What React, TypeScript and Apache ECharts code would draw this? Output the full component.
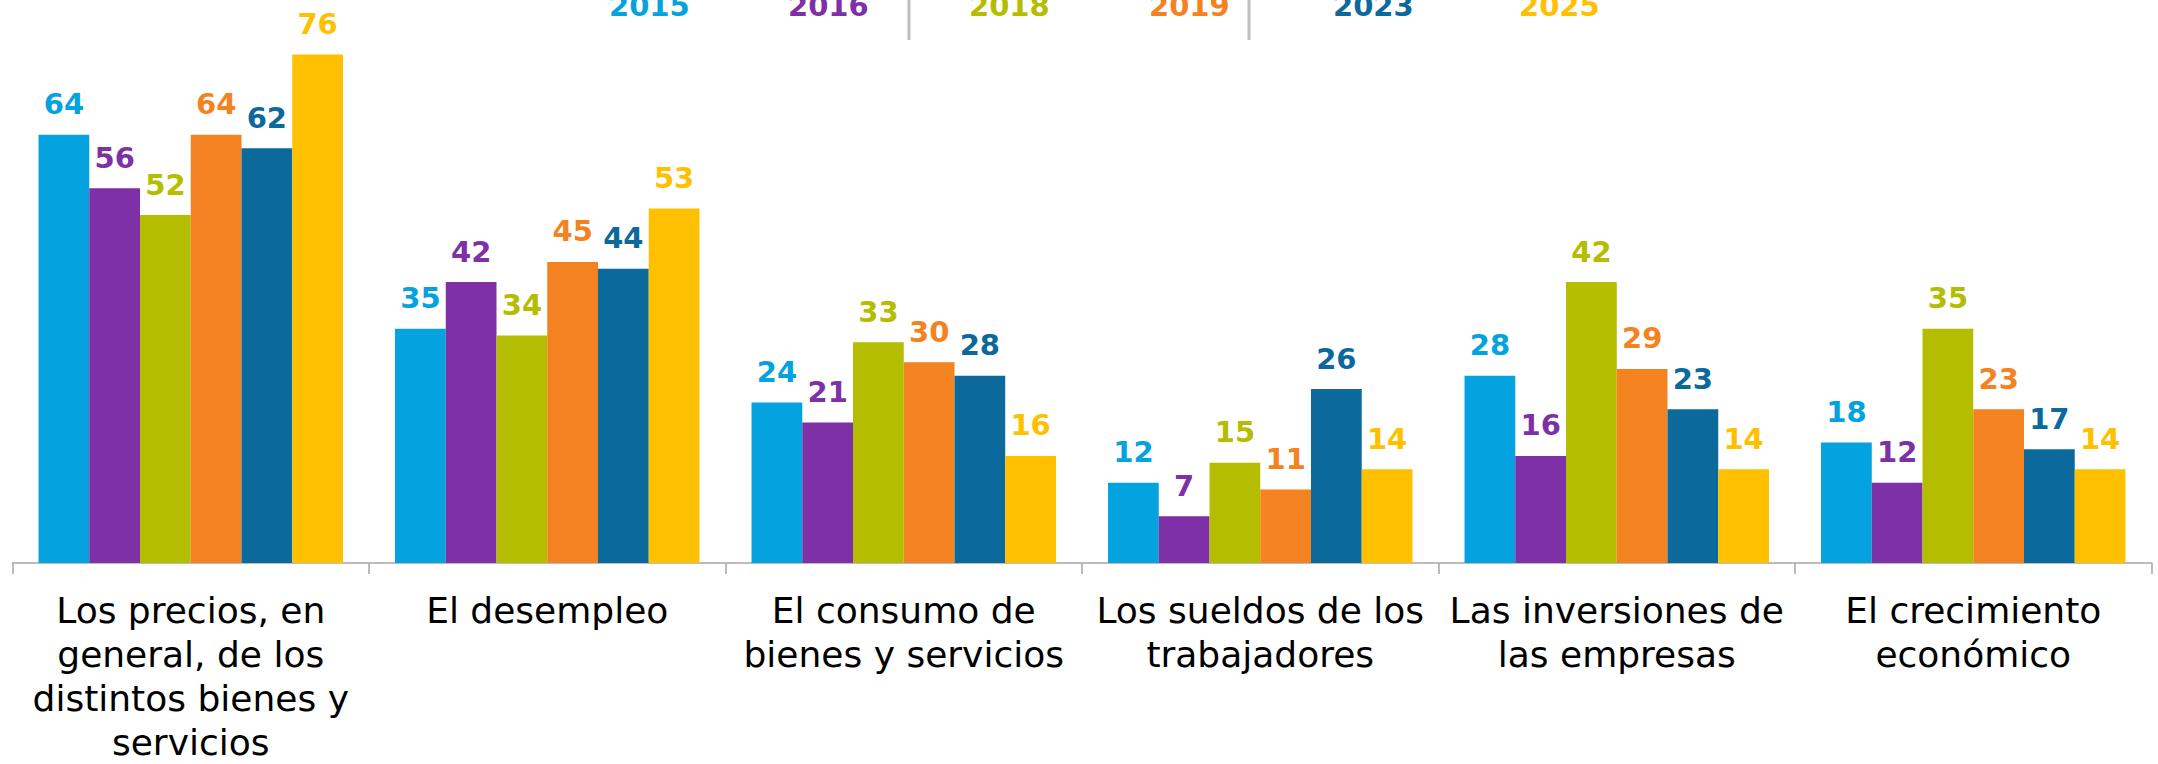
import React, { useEffect, useRef } from "react";
import * as echarts from "echarts";

const categories = [
  "Los precios, en\ngeneral, de los\ndistintos bienes y\nservicios",
  "El desempleo",
  "El consumo de\nbienes y servicios",
  "Los sueldos de los\ntrabajadores",
  "Las inversiones de\nlas empresas",
  "El crecimiento\neconómico",
];

const years = ["2015", "2016", "2018", "2019", "2023", "2025"];
const colors = ["#05A2E0", "#7E31A6", "#B5BD00", "#F58220", "#0B699B", "#FFC000"];

const v2015 = [64, 35, 24, 12, 28, 18];
const v2016 = [56, 42, 21, 7, 16, 12];
const v2018 = [52, 34, 33, 15, 42, 35];
const v2019 = [64, 45, 30, 11, 29, 23];
const v2023 = [62, 44, 28, 26, 23, 17];
const v2025 = [76, 53, 16, 14, 14, 14];

const seriesValues = [v2015, v2016, v2018, v2019, v2023, v2025];

// horizontal centres of the legend entries (layout)
const legendCenters = [649, 828, 1009, 1189, 1373, 1559];

export default function App() {
  const ref = useRef<HTMLDivElement>(null);

  useEffect(() => {
    document.body.style.margin = "0";
    document.body.style.overflow = "hidden";
    document.documentElement.style.overflow = "hidden";
    if (!ref.current) return;
    const chart = echarts.init(ref.current, undefined, { renderer: "svg", width: 2158, height: 764 });
    const numFont = "'DejaVu Sans', sans-serif";
    chart.setOption({
      animation: false,
      backgroundColor: "#ffffff",
      legend: years.map((y, i) => ({
        left: legendCenters[i] - 45,
        top: -9,
        padding: 0,
        icon: "rect",
        itemWidth: 0,
        itemHeight: 0,
        selectedMode: false,
        data: [
          {
            name: y,
            textStyle: { color: colors[i], fontSize: 29, fontWeight: "bold", fontFamily: numFont },
          },
        ],
      })),
      graphic: [
        { type: "line", shape: { x1: 909, y1: 0, x2: 909, y2: 40 }, style: { stroke: "#BFBFBF", lineWidth: 3 } },
        { type: "line", shape: { x1: 1249, y1: 0, x2: 1249, y2: 40 }, style: { stroke: "#BFBFBF", lineWidth: 3 } },
      ],
      grid: {
        left: 12.5,
        right: 6.5,
        top: 27.8,
        bottom: 201,
        containLabel: false,
        outerBoundsMode: "none",
      },
      xAxis: {
        type: "category",
        data: categories,
        axisLine: { lineStyle: { color: "#A6A6A6", width: 1.5 } },
        axisTick: { show: true, length: 11, lineStyle: { color: "#A6A6A6", width: 1.5 } },
        axisLabel: {
          interval: 0,
          margin: 25,
          color: "#000000",
          fontSize: 36,
          lineHeight: 44,
          fontFamily: numFont,
          align: "center",
        },
      },
      yAxis: { type: "value", min: 0, max: 80, show: false, splitLine: { show: false } },
      series: years.map((y, i) => ({
        name: y,
        type: "bar",
        data: seriesValues[i],
        barGap: "0%",
        barCategoryGap: "14.6%",
        itemStyle: { color: colors[i] },
        label: {
          show: true,
          position: "top",
          distance: 16,
          color: colors[i],
          fontSize: 29,
          fontWeight: "bold",
          fontFamily: numFont,
        },
      })),
    });
    return () => chart.dispose();
  }, []);

  return (
    <div
      ref={ref}
      style={{ position: "fixed", left: 0, top: 0, width: 2158, height: 764, background: "#fff" }}
    />
  );
}
